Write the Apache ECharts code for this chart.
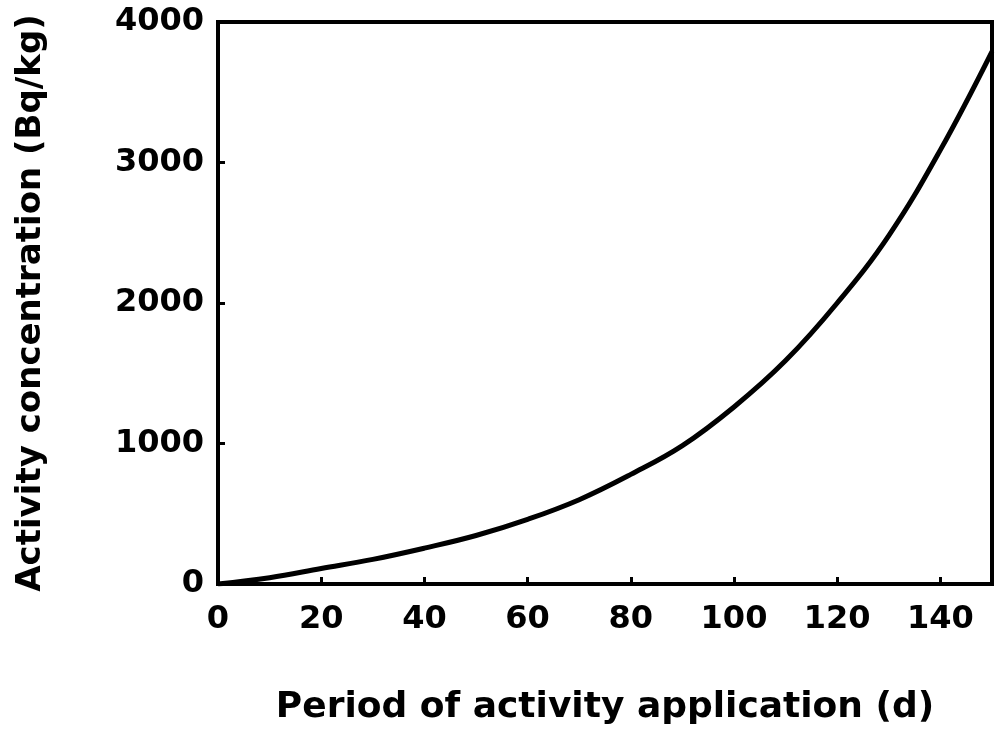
<!DOCTYPE html>
<html>
<head>
<meta charset="utf-8">
<script src="https://cdn.jsdelivr.net/npm/echarts@6/dist/echarts.min.js"></script>
<style>
  html, body { margin: 0; padding: 0; background: #fff; }
  #chart { width: 998px; height: 731px; }
</style>
</head>
<body>
<div id="chart"></div>
<script>
// Days since start of application
var days = [0, 10, 20, 30, 40, 50, 60, 70, 80, 90, 100, 110, 120, 130, 140, 150];
// Activity concentration in Bq/kg
var activity = [0, 45, 110, 175, 255, 345, 460, 600, 780, 985, 1260, 1590, 2000, 2480, 3090, 3790];

var xTitle = 'Period of activity application (d)';
var yTitle = 'Activity concentration (Bq/kg)';

var font = '"DejaVu Sans", sans-serif';
var ink = '#000';

var chart = echarts.init(document.getElementById('chart'), null, { renderer: 'canvas' });
chart.setOption({
  animation: false,
  backgroundColor: '#fff',
  grid: {
    left: 218, right: 6, top: 22, bottom: 134,
    show: true, borderColor: ink, borderWidth: 4, backgroundColor: 'transparent'
  },
  xAxis: {
    type: 'value', min: 0, max: 150, interval: 20,
    name: xTitle, nameLocation: 'middle', nameGap: 106,
    nameTextStyle: { fontFamily: font, fontSize: 36, color: ink, fontWeight: 'bold' },
    axisLine: { lineStyle: { color: ink, width: 4 } },
    axisTick: { inside: true, length: 7, lineStyle: { color: ink, width: 3 } },
    axisLabel: {
      margin: 20, fontFamily: font, fontSize: 32, fontWeight: 'bold', color: ink,
      showMaxLabel: false, formatter: function (v) { return String(v); }
    },
    splitLine: { show: false }
  },
  yAxis: {
    type: 'value', min: 0, max: 4000, interval: 1000,
    name: yTitle, nameLocation: 'middle', nameGap: 170, nameRotate: 90,
    nameTextStyle: { fontFamily: font, fontSize: 34, color: ink, fontWeight: 'bold' },
    axisLine: { lineStyle: { color: ink, width: 4 } },
    axisTick: { inside: true, length: 7, lineStyle: { color: ink, width: 3 } },
    axisLabel: {
      margin: 14, fontFamily: font, fontSize: 32, fontWeight: 'bold', color: ink,
      formatter: function (v) { return String(v); }
    },
    splitLine: { show: false }
  },
  series: [{
    type: 'line',
    data: days.map(function (d, i) { return [d, activity[i]]; }),
    smooth: 0.4,
    symbol: 'none',
    lineStyle: { color: ink, width: 5 }
  }]
});
</script>
</body>
</html>
